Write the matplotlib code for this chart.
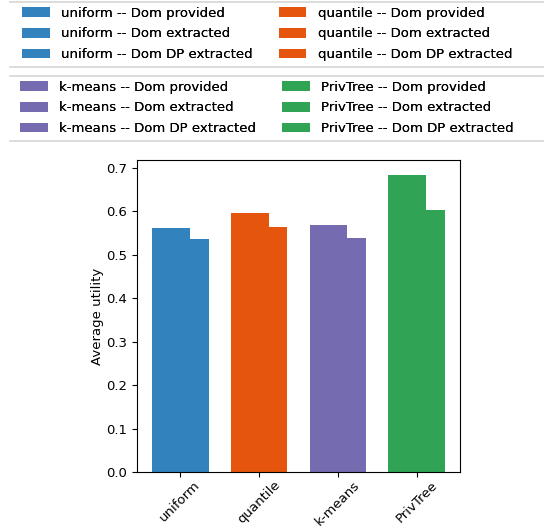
import matplotlib
matplotlib.use("Agg")
import matplotlib.pyplot as plt
from matplotlib.lines import Line2D
import numpy as np

methods = ["uniform", "quantile", "k-means", "PrivTree"]
variants = ["Dom provided", "Dom extracted", "Dom DP extracted"]
colors = ["#3182bd", "#e6550d", "#756bb1", "#31a354"]
provided = [0.562, 0.597, 0.568, 0.684]
extracted = [0.562, 0.597, 0.568, 0.684]
dp_extracted = [0.536, 0.565, 0.539, 0.603]
values = [provided, extracted, dp_extracted]

plt.rcParams["font.size"] = 9.5

W, H = 548, 527
fig = plt.figure(figsize=(W / 100, H / 100), dpi=100)
ax = fig.add_axes([137 / W, (H - 472) / H, 323 / W, 312 / H])

x = np.arange(len(methods))
bw = 0.24
handles = {}
for j, var in enumerate(variants):
    for i, m in enumerate(methods):
        b = ax.bar(x[i] + (j - 1) * bw, values[j][i], width=bw, color=colors[i],
                   label=f"{m} -- {var}")
        handles[(i, j)] = b

ax.set_xticks(x)
ax.set_xticklabels(methods, rotation=45)
ax.tick_params(axis="x", pad=1.0)
ax.set_ylabel("Average utility", labelpad=1.8)

def make_legend(idx_pair, top_px):
    hs, ls = [], []
    for i in idx_pair:
        for j, var in enumerate(variants):
            hs.append(handles[(i, j)])
            ls.append(f"{methods[i]} -- {var}")
    leg = fig.legend(hs, ls, ncol=2, loc="upper center", frameon=False,
                     handlelength=2.1, handleheight=0.74, labelspacing=0.57,
                     handletextpad=0.85, columnspacing=2.0,
                     bbox_to_anchor=(267 / W, 1 - top_px / H))
    fig.add_artist(leg)
    return leg

make_legend([0, 1], -5.0)
make_legend([2, 3], 69.0)

for ypx in [2, 67, 76, 141]:
    fig.add_artist(Line2D([10 / W, 543 / W], [1 - ypx / H, 1 - ypx / H],
                          transform=fig.transFigure, color="#d6d6d6", lw=1.2))

fig.savefig("out.png", dpi=100)
